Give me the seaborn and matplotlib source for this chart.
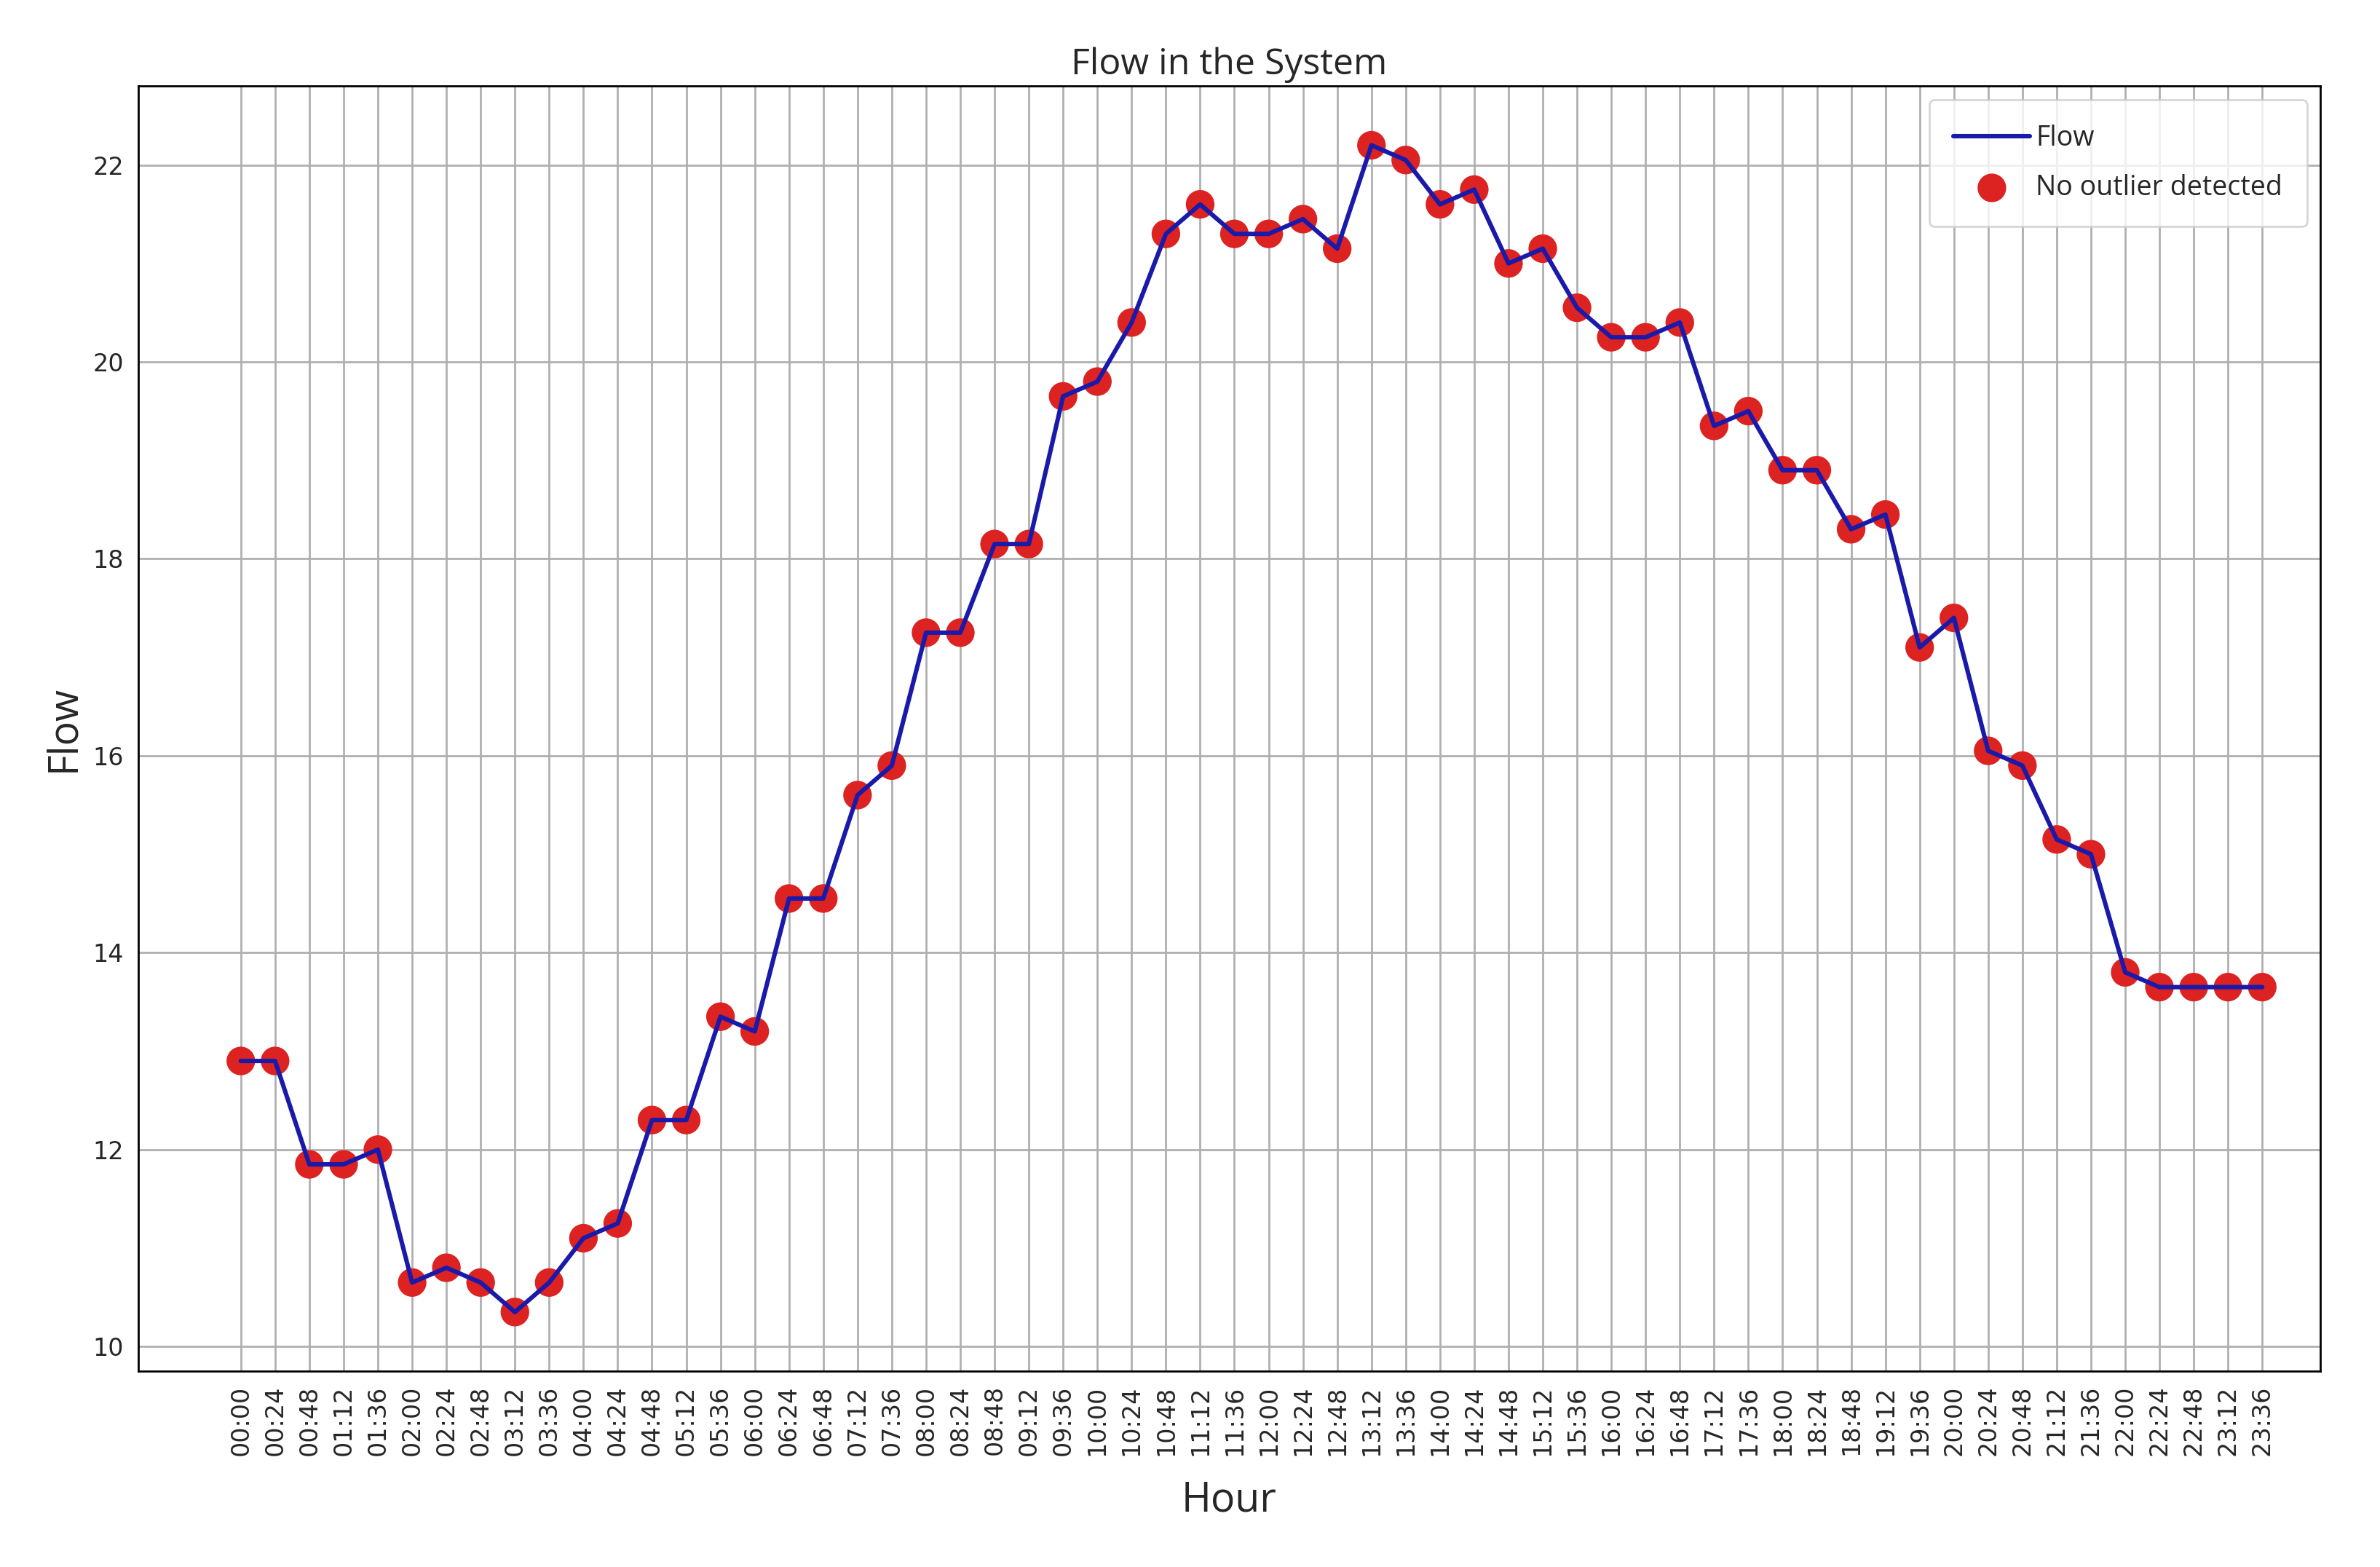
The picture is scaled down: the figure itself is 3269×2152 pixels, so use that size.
import matplotlib
matplotlib.use("Agg")
import matplotlib.pyplot as plt
import seaborn as sns
import pandas as pd

# Hour labels, every 24 minutes
hours = [f"{(m // 60):02d}:{(m % 60):02d}" for m in range(0, 24 * 60, 24)]

flow = [12.9, 12.9, 11.85, 11.85, 12.0, 10.65, 10.8, 10.65, 10.35, 10.65,
        11.1, 11.25, 12.3, 12.3, 13.35, 13.2, 14.55, 14.55, 15.6, 15.9,
        17.25, 17.25, 18.15, 18.15, 19.65, 19.8, 20.4, 21.3, 21.6, 21.3,
        21.3, 21.45, 21.15, 22.2, 22.05, 21.6, 21.75, 21.0, 21.15, 20.55,
        20.25, 20.25, 20.4, 19.35, 19.5, 18.9, 18.9, 18.3, 18.45, 17.1,
        17.4, 16.05, 15.9, 15.15, 15.0, 13.8, 13.65, 13.65, 13.65, 13.65]

df = pd.DataFrame({"hour": hours, "flow": flow, "idx": range(len(hours))})

sns.set_style("white")
fig, ax = plt.subplots(figsize=(16.345, 10.76), dpi=200)
fig.subplots_adjust(left=0.058, right=0.975, top=0.945, bottom=0.125)

sns.scatterplot(data=df, x="idx", y="flow", ax=ax, color="#dd2222", s=200,
                edgecolor="none", label="No outlier detected", zorder=3)
sns.lineplot(data=df, x="idx", y="flow", ax=ax, color="#1a1aaa", linewidth=2.2,
             label="Flow", zorder=4)

ax.set_xticks(df["idx"])
ax.set_xticklabels(hours, rotation=90, fontsize=12)
ax.tick_params(axis="y", labelsize=12)
ax.set_xlim(-3, 60.7)
ax.set_ylim(9.75, 22.8)
ax.set_yticks([10, 12, 14, 16, 18, 20, 22])
ax.grid(True, color="#b0b0b0", linewidth=1)
ax.set_axisbelow(True)
for s in ax.spines.values():
    s.set_color("black")
    s.set_linewidth(1)

ax.set_title("Flow in the System", fontsize=18, family="Open Sans")
ax.set_xlabel("Hour", fontsize=20, family="Open Sans", labelpad=12)
ax.set_ylabel("Flow", fontsize=20, family="Open Sans")

h, l = ax.get_legend_handles_labels()
order = [l.index("Flow"), l.index("No outlier detected")]
ax.legend([h[i] for i in order], [l[i] for i in order], loc="upper right",
          prop={"family": "Open Sans", "size": 13.5}, borderpad=0.9,
          handletextpad=0.2, labelspacing=0.8, handlelength=2.8)

fig.savefig("out.png", dpi=200)
